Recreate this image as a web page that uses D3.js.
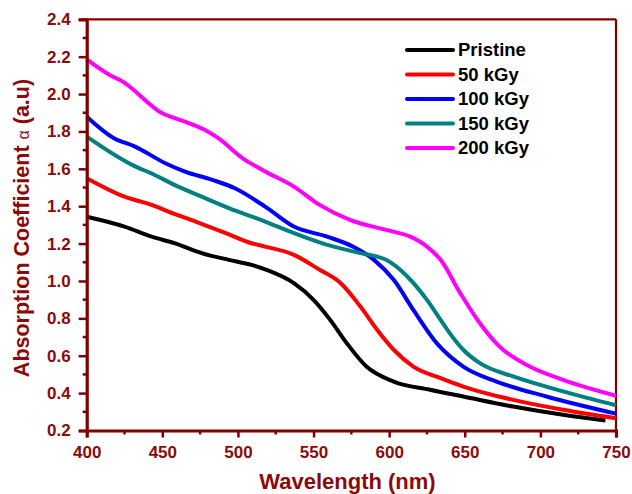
<!DOCTYPE html>
<html>
<head>
<meta charset="utf-8">
<script src="https://cdn.jsdelivr.net/npm/d3@7/dist/d3.min.js"></script>
<style>
  html, body { margin: 0; padding: 0; background: #fff; }
  svg { display: block; }
  text { font-family: "Liberation Sans", Arial, sans-serif; font-weight: bold; }
</style>
</head>
<body>
<svg id="chart" width="632" height="494"></svg>
<script>
// ---- data ----
const seriesNames = ["Pristine", "50 kGy", "100 kGy", "150 kGy", "200 kGy"];
const seriesColors = ["#000000", "#ff0000", "#0000ff", "#008080", "#ff00ff"];

const pristineX = [400, 425, 443, 458, 476, 494, 509, 518, 537, 550, 561, 572, 585, 603, 627, 649, 682, 715, 743];
const pristineY = [1.344, 1.291, 1.237, 1.202, 1.149, 1.113, 1.086, 1.062, 0.988, 0.899, 0.792, 0.667, 0.542, 0.462, 0.418, 0.382, 0.328, 0.284, 0.254];

const kGy50X = [400, 425, 443, 454, 472, 492, 509, 518, 537, 554, 568, 581, 592, 603, 616, 634, 649, 682, 715, 750];
const kGy50Y = [1.55, 1.451, 1.407, 1.371, 1.318, 1.256, 1.202, 1.184, 1.14, 1.06, 0.988, 0.863, 0.739, 0.632, 0.542, 0.48, 0.435, 0.364, 0.311, 0.266];

const kGy100X = [400, 418, 432, 452, 465, 483, 498, 518, 537, 559, 576, 590, 603, 616, 632, 649, 671, 704, 750];
const kGy100Y = [1.879, 1.764, 1.719, 1.63, 1.585, 1.541, 1.496, 1.398, 1.291, 1.237, 1.184, 1.113, 1.006, 0.845, 0.662, 0.542, 0.462, 0.382, 0.29];

const kGy150X = [400, 430, 445, 458, 476, 494, 518, 537, 559, 581, 598, 612, 625, 634, 640, 649, 660, 682, 715, 750];
const kGy150Y = [1.772, 1.621, 1.567, 1.514, 1.451, 1.39, 1.318, 1.256, 1.193, 1.149, 1.113, 1.024, 0.899, 0.792, 0.721, 0.632, 0.56, 0.489, 0.409, 0.335];

const kGy200X = [400, 418, 422, 450, 465, 480, 487, 503, 517, 537, 554, 574, 598, 614, 625, 634, 647, 660, 673, 693, 715, 750];
const kGy200Y = [2.186, 2.09, 2.075, 1.897, 1.852, 1.80, 1.764, 1.657, 1.59, 1.505, 1.407, 1.327, 1.273, 1.237, 1.184, 1.113, 0.935, 0.774, 0.649, 0.542, 0.471, 0.386];

const seriesX = [pristineX, kGy50X, kGy100X, kGy150X, kGy200X];
const seriesY = [pristineY, kGy50Y, kGy100Y, kGy150Y, kGy200Y];

const xTicks = [400, 450, 500, 550, 600, 650, 700, 750];
const yTicks = [0.2, 0.4, 0.6, 0.8, 1.0, 1.2, 1.4, 1.6, 1.8, 2.0, 2.2, 2.4];

// ---- layout ----
const axisColor = "#800000";
const textColor = "#8b0a0a";
const L = 86.7, R = 616, T = 19.3, B = 430.5;

const svg = d3.select("#chart");
const x = d3.scaleLinear().domain([400, 750]).range([L, R]);
const y = d3.scaleLinear().domain([0.2, 2.4]).range([B, T]);

// frame (top & right)
svg.append("line").attr("x1", L).attr("x2", R).attr("y1", T).attr("y2", T)
  .attr("stroke", axisColor).attr("stroke-width", 2.2);
svg.append("line").attr("x1", R).attr("x2", R).attr("y1", T).attr("y2", B)
  .attr("stroke", axisColor).attr("stroke-width", 2.2);

// lines
const line = d3.line().x(d => x(d[0])).y(d => y(d[1])).curve(d3.curveMonotoneX);
seriesNames.forEach((name, i) => {
  const pts = seriesX[i].map((v, j) => [v, seriesY[i][j]]);
  svg.append("path").datum(pts)
    .attr("d", line)
    .attr("fill", "none")
    .attr("stroke", seriesColors[i])
    .attr("stroke-width", 4)
    .attr("stroke-linejoin", "round")
    .attr("stroke-linecap", "butt");
});

// x axis
const xAxis = d3.axisBottom(x).tickValues(xTicks).tickSize(7).tickPadding(8).tickFormat(d3.format("d"));
const gx = svg.append("g").attr("transform", `translate(0,${B})`).call(xAxis);
const xMinor = d3.range(425, 750, 50);
gx.selectAll(".minor").data(xMinor).enter().append("line")
  .attr("class", "minor")
  .attr("x1", d => x(d)).attr("x2", d => x(d)).attr("y1", 0).attr("y2", 4)
  .attr("stroke", axisColor).attr("stroke-width", 2.5);

// y axis
const yAxis = d3.axisLeft(y).tickValues(yTicks).tickSize(8).tickPadding(8).tickFormat(d3.format(".1f"));
const gy = svg.append("g").attr("transform", `translate(${L},0)`).call(yAxis);
const yMinor = d3.range(0.3, 2.4, 0.2);
gy.selectAll(".minor").data(yMinor).enter().append("line")
  .attr("class", "minor")
  .attr("x1", 0).attr("x2", -4).attr("y1", d => y(d)).attr("y2", d => y(d))
  .attr("stroke", axisColor).attr("stroke-width", 2.5);

[gx, gy].forEach(g => {
  g.select(".domain").attr("stroke", axisColor).attr("stroke-width", 3.2);
  g.selectAll(".tick line").attr("stroke", axisColor).attr("stroke-width", 2.5);
  g.selectAll(".tick text")
    .attr("fill", textColor)
    .style("font-size", "17px")
    .style("font-weight", "bold")
    .style("font-family", "'Liberation Sans', Arial, sans-serif");
});

// axis titles
svg.append("text")
  .attr("x", 347.5).attr("y", 488.5)
  .attr("text-anchor", "middle")
  .attr("fill", textColor)
  .style("font-size", "22px")
  .text("Wavelength (nm)");

const yTitle = svg.append("text")
  .attr("transform", "translate(29,228) rotate(-90)")
  .attr("text-anchor", "middle")
  .attr("fill", textColor)
  .style("font-size", "21.5px");
yTitle.append("tspan").text("Absorption Coefficient ");
yTitle.append("tspan").style("font-size", "16px").style("font-weight", "normal").text("α");
yTitle.append("tspan").text(" (a.u)");

// legend
const legY0 = 50, legDy = 24.5;
const leg = svg.append("g");
seriesNames.forEach((name, i) => {
  const yy = legY0 + i * legDy;
  leg.append("line")
    .attr("x1", 407).attr("x2", 453).attr("y1", yy).attr("y2", yy)
    .attr("stroke", seriesColors[i]).attr("stroke-width", 4).attr("stroke-linecap", "round");
  leg.append("text")
    .attr("x", 458).attr("y", yy).attr("dy", "0.35em")
    .attr("fill", "#000")
    .style("font-size", "18.5px")
    .text(name);
});
</script>
</body>
</html>
